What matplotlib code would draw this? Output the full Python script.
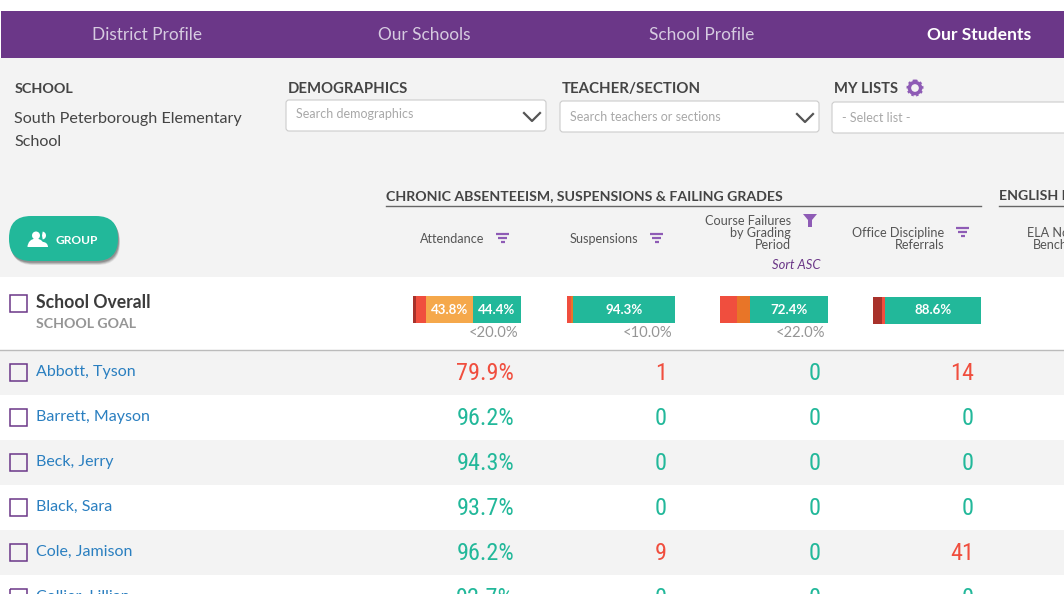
import numpy as np
import matplotlib.pyplot as plt
from matplotlib.patches import Rectangle, FancyBboxPatch, Circle, Wedge

nav_labels = ["District Profile", "Our Schools", "School Profile", "Our Students"]
column_labels = [["Attendance"], ["Suspensions"], ["Course Failures", "by Grading", "Period"], ["Office Discipline", "Referrals"]]
goals = ["<20.0%", "<10.0%", "<22.0%", ""]

# stacked bars, from the left: dark red, red, orange, green
overall_dark = [2.8, 0.0, 0.0, 8.5]
overall_red = [9.0, 3.7, 15.7, 2.9]
overall_orange = [43.8, 2.0, 11.9, 0.0]
overall_green = [44.4, 94.3, 72.4, 88.6]

students = ["Abbott, Tyson", "Barrett, Mayson", "Beck, Jerry", "Black, Sara", "Cole, Jamison", "Collier, Lillian"]
attendance = [79.9, 96.2, 94.3, 93.7, 96.2, 92.7]
suspensions = [1, 0, 0, 0, 9, 0]
course_failures = [0, 0, 0, 0, 0, 0]
referrals = [14, 0, 0, 0, 41, 0]

PURPLE = "#6b3788"
ICON = "#8e5bb5"
GREEN = "#22b89a"
RED = "#f04e3e"
DARK = "#444444"
NARROW = ["Roboto Condensed", "Liberation Sans Narrow", "Roboto"]


def kutija(x, y, w, h, boja, rub="none", lw=1.0, zorder=1):
    '''
        pravougaonik u pikselima slike
    '''
    plt.gca().add_patch(Rectangle((x, y), w, h, facecolor=boja, edgecolor=rub, linewidth=lw, zorder=zorder))


def pisi(x, y, tekst, size, boja=DARK, ha="left", weight="normal", family="Lato", **kw):
    plt.text(x, y + 0.8, tekst, fontsize=size, color=boja, ha=ha, va="center", fontweight=weight, family=family, **kw)


def filter_ikona(x, y):
    plt.plot([x, x + 13], [y - 4, y - 4], color=ICON, lw=1.6, solid_capstyle="butt")
    plt.plot([x + 2, x + 11], [y, y], color=ICON, lw=1.6, solid_capstyle="butt")
    plt.plot([x + 4.5, x + 8.5], [y + 4, y + 4], color=ICON, lw=1.6, solid_capstyle="butt")


def strelica(x, y):
    plt.plot([x, x + 8, x + 16], [y, y + 8, y], color="#555555", lw=1.6)


def dropdown(x, y, w, tekst, tekst_x, tekst_y):
    plt.gca().add_patch(FancyBboxPatch((x + 3, y + 3), w - 6, 25, boxstyle="round,pad=3",
                                       facecolor="white", edgecolor="#cccccc", linewidth=0.8, zorder=2))
    pisi(tekst_x, tekst_y, tekst, 9, boja="#a8a8a8", zorder=3)


def zaglavlje():
    kutija(0, 58, 1064, 219, "#f3f3f3", zorder=0)
    kutija(1, 11, 1063, 47, PURPLE)
    centri = [147, 424, 702, 979]
    for i in range(len(nav_labels)):
        if i == 3:
            pisi(centri[i], 34, nav_labels[i], 12.6, boja="white", ha="center", weight="bold")
        else:
            pisi(centri[i], 34, nav_labels[i], 12.4, boja="#d6cbe0", ha="center")

    pisi(15, 88.5, "SCHOOL", 10.4, weight="bold")
    pisi(14, 118, "South Peterborough Elementary", 11.6)
    pisi(14, 141, "School", 11.6)
    pisi(288, 88.5, "DEMOGRAPHICS", 10.7, weight="bold")
    pisi(562, 88.5, "TEACHER/SECTION", 10.8, weight="bold")
    pisi(834, 88.5, "MY LISTS", 10.6, weight="bold")

    # zupcanik
    plt.gca().add_patch(Circle((915, 88), 5.6, facecolor="none", edgecolor=ICON, linewidth=2.5))
    plt.gca().add_patch(Circle((915, 88), 7.6, facecolor="none", edgecolor=ICON, linewidth=1.3, linestyle=(0, (1.4, 1.4))))

    dropdown(286, 100, 260, "Search demographics", 296, 113)
    dropdown(560, 101, 259, "Search teachers or sections", 570, 116)
    dropdown(832, 102, 260, "- Select list -", 842, 117)
    strelica(524, 113)
    strelica(797, 114)


def kolone():
    pisi(386, 195, "CHRONIC ABSENTEEISM, SUSPENSIONS & FAILING GRADES", 10.2, weight="bold")
    pisi(999, 195, "ENGLISH LANGUAGE ARTS", 10.2, weight="bold")
    plt.plot([386, 981], [205.5, 205.5], color="#666666", lw=1.0)
    plt.plot([999, 1064], [205.5, 205.5], color="#666666", lw=1.0)

    desno = [484, 638, 791, 944]
    prvi_red = [238, 238, 220, 232]
    for i in range(len(column_labels)):
        redovi = column_labels[i]
        for j in range(len(redovi)):
            pisi(desno[i], prvi_red[i] + 12 * j, redovi[j], 9.1, boja="#555555", ha="right")
    filter_ikona(496, 238)
    filter_ikona(650, 238)
    filter_ikona(956, 232)
    plt.fill([803, 817, 812, 812, 808, 808], [214, 214, 220, 227, 227, 220], color=ICON, lw=0)

    pisi(820, 264, "Sort ASC", 9.4, boja=PURPLE, ha="right", style="italic")
    pisi(1027, 232, "ELA Not Meeting", 9.1, boja="#555555")
    pisi(1033, 244, "Benchmark", 9.1, boja="#555555")


def dugme():
    ax = plt.gca()
    for pomak, alfa in zip([5, 4, 3, 2], [0.12, 0.18, 0.25, 0.3]):
        ax.add_patch(FancyBboxPatch((31 + pomak * 0.4, 216 + pomak * 0.8 + 22), 65, 1, boxstyle="round,pad=22,rounding_size=22",
                                    facecolor="#555555", edgecolor="none", alpha=alfa, zorder=2))
    ax.add_patch(FancyBboxPatch((31, 238), 65, 1, boxstyle="round,pad=22,rounding_size=22",
                                facecolor=GREEN, edgecolor="none", zorder=3))
    ax.add_patch(Circle((36, 235.5), 4, facecolor="white", edgecolor="none", zorder=4))
    ax.add_patch(Wedge((36, 247), 8.5, 180, 360, facecolor="white", edgecolor="none", zorder=4))
    ax.add_patch(Wedge((42, 235.5), 4, -80, 80, facecolor="white", edgecolor="none", zorder=4))
    ax.add_patch(Wedge((43, 247), 5, 270, 360, facecolor="white", edgecolor="none", zorder=4))
    pisi(55.5, 239.5, "GROUP", 8.6, boja="white", weight="bold", zorder=5)


def ukupno():
    kutija(0, 277, 1064, 72, "white", zorder=0)
    plt.plot([0, 1064], [349.5, 349.5], color="#bbbbbb", lw=1.0)
    kutija(9.5, 294.5, 17, 17, "white", rub=PURPLE, lw=1.1)
    pisi(36, 301.5, "School Overall", 12.7, boja="#3c3c3c", weight="bold")
    pisi(36, 323, "SCHOOL GOAL", 10.2, boja="#959595", weight="bold")

    pocetak = np.array([413, 567, 720, 873])
    sirina = 108 / 100  # svaka traka je 108 px siroka
    vrh = [309.5, 309.5, 309.5, 310.5]
    dark = np.array(overall_dark)
    red = np.array(overall_red)
    orange = np.array(overall_orange)
    green = np.array(overall_green)

    plt.barh(vrh, dark * sirina, 27, left=pocetak, color="#a8322b")
    plt.barh(vrh, red * sirina, 27, left=pocetak + dark * sirina, color=RED)
    boje = ["#f5a84b", "#e87528", "#e87528", "#e87528"]
    plt.barh(vrh, orange * sirina, 27, left=pocetak + (dark + red) * sirina, color=boje)
    plt.barh(vrh, green * sirina, 27, left=pocetak + (dark + red + orange) * sirina, color=GREEN)

    for i in range(4):
        sredina = pocetak[i] + (dark[i] + red[i] + orange[i] + green[i] / 2) * sirina
        pisi(sredina, vrh[i] - 0.8, "%.1f%%" % green[i], 9.6, boja="white", ha="center", weight="bold", zorder=4)
        if orange[i] > 20:
            sredina = pocetak[i] + (dark[i] + red[i] + orange[i] / 2) * sirina
            pisi(sredina, vrh[i] - 0.8, "%.1f%%" % orange[i], 9.6, boja="white", ha="center", weight="bold", zorder=4)
        if goals[i]:
            pisi(pocetak[i] + 105, 332, goals[i], 10.6, boja="#959595", ha="right")


def studenti():
    for i in range(len(students)):
        vrh = 350 + 45 * i
        kutija(0, vrh, 1064, 45, "#f3f3f3" if i % 2 == 0 else "white", zorder=0)
        kutija(9.5, vrh + 13.5, 17, 17, "none", rub=PURPLE, lw=1.1)
        pisi(36, vrh + 21, students[i], 11.5, boja="#2a7fc0")

        boja = RED if attendance[i] < 80 else GREEN
        pisi(514, vrh + 22.5, "%.1f%%" % attendance[i], 17.5, boja=boja, ha="right", family=NARROW)
        stupci = [suspensions[i], course_failures[i], referrals[i]]
        desno = [667, 821, 974]
        for j in range(3):
            boja = RED if stupci[j] > 0 else GREEN
            pisi(desno[j], vrh + 22.5, str(stupci[j]), 17.5, boja=boja, ha="right", family=NARROW)


plt.figure(figsize=(10.64, 5.94), dpi=100, facecolor="white")
plt.axes([0, 0, 1, 1])
plt.xlim(0, 1064)
plt.ylim(594, 0)
plt.axis("off")

zaglavlje()
kolone()
dugme()
ukupno()
studenti()

plt.savefig("out.png", dpi=100)
